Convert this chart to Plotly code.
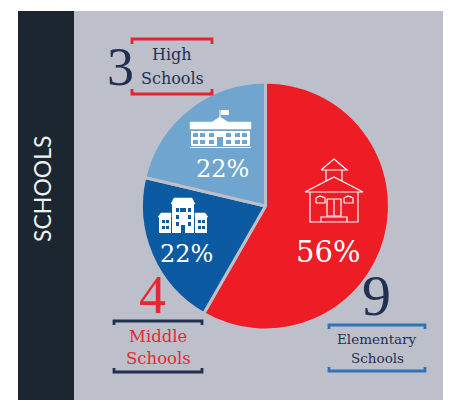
import plotly.graph_objects as go

categories = ["Elementary Schools", "Middle Schools", "High Schools"]
printed_shares = [56, 22, 22]
drawn_shares = [58.3, 20.4, 21.3]
counts = [9, 4, 3]
slice_colors = ["#ee1c25", "#0b5aa2", "#6fa5cf"]

W, H = 460, 400
NAVY = "#1f3050"
RED = "#e8262f"
PANEL = "#bdc0cb"
WHITE = "#ffffff"


def px(x):
    return x / W


def py(y):
    return 1 - y / H


shapes = []


def rect(x0, y0, x1, y1, fill, line=None, lw=1):
    shapes.append(dict(type="rect", xref="paper", yref="paper", x0=px(x0), x1=px(x1),
                       y0=py(y0), y1=py(y1), fillcolor=fill,
                       line=dict(color=line or fill, width=lw if line else 0)))


def seg(points, color=WHITE, lw=1.2, fill=None, close=False):
    d = "M " + " L ".join(f"{px(a):.5f},{py(b):.5f}" for a, b in points)
    if close:
        d += " Z"
    shapes.append(dict(type="path", xref="paper", yref="paper", path=d,
                       fillcolor=fill if fill else "rgba(0,0,0,0)",
                       line=dict(color=color, width=lw)))


def bracket(x0, x1, y, tick, color, lw=2.8):
    seg([(x0, y + tick), (x0, y), (x1, y), (x1, y + tick)], color, lw)


# background panels
rect(74, 11, 443, 400, PANEL)
rect(18, 11, 74, 400, "#1c2630")

# legend brackets
bracket(132, 212, 39, 5, "#e3242e")
bracket(132, 212, 94, -5, "#e3242e")
bracket(114, 202, 321, 4, NAVY)
bracket(114, 202, 372, -4, NAVY)
bracket(329, 425, 325, 4, "#2f72b8")
bracket(329, 425, 371, -4, "#2f72b8")

# elementary school icon (outlined)
seg([(305, 192), (334, 177), (363, 192), (305, 192)], WHITE, 1.2)
seg([(310, 192), (310, 222), (358, 222), (358, 192)], WHITE, 1.2)
seg([(321, 170), (334, 159), (347, 170), (321, 170)], WHITE, 1.2)
seg([(326, 170), (326, 181)], WHITE, 1.2)
seg([(342, 170), (342, 181)], WHITE, 1.2)
seg([(327, 199), (327, 216), (341, 216), (341, 199), (327, 199)], WHITE, 1.2)
seg([(334, 199), (334, 216)], WHITE, 1.2)
seg([(316, 203), (316, 198), (320, 196), (325, 198), (325, 203), (316, 203)], WHITE, 1.2)
seg([(344, 203), (344, 198), (348, 196), (353, 198), (353, 203), (344, 203)], WHITE, 1.2)
seg([(321, 222), (321, 217), (347, 217), (347, 222)], WHITE, 1.2)

# high school icon (filled)
seg([(190, 122), (212, 122), (220, 117), (228, 122), (251, 122), (251, 129), (190, 129)], WHITE, 0.5, WHITE, True)
rect(191, 131, 250, 146, WHITE)
rect(190, 147, 251, 148, WHITE)
seg([(220, 118), (220, 110)], WHITE, 1)
rect(221, 110, 229, 115, WHITE)
for wx in [193, 200, 209, 226, 235, 242]:
    rect(wx, 133, wx + 5, 137, "#6fa5cf")
    rect(wx, 140, wx + 5, 144, "#6fa5cf")
rect(217, 137, 223, 147, "#6fa5cf")

# middle school icon (filled)
rect(172, 204, 194, 233, WHITE)
seg([(171, 204), (174, 198), (192, 198), (195, 204)], WHITE, 0.5, WHITE, True)
rect(159, 217, 171, 233, WHITE)
rect(195, 217, 207, 233, WHITE)
seg([(158, 217), (161, 213), (171, 213), (171, 217)], WHITE, 0.5, WHITE, True)
seg([(195, 217), (195, 213), (205, 213), (208, 217)], WHITE, 0.5, WHITE, True)
for wx in [162, 166, 198, 202]:
    rect(wx, 220, wx + 3, 223, "#0b5aa2")
    rect(wx, 226, wx + 3, 229, "#0b5aa2")
for wx in [176, 188]:
    for wy in [208, 215, 222]:
        rect(wx, wy, wx + 3, wy + 4, "#0b5aa2")
rect(180, 208, 186, 212, "#0b5aa2")
rect(181, 225, 185, 233, "#0b5aa2")

fig = go.Figure(go.Pie(
    labels=categories,
    values=drawn_shares,
    sort=False,
    direction="clockwise",
    rotation=0,
    marker=dict(colors=slice_colors, line=dict(color=PANEL, width=3)),
    textinfo="none",
    hoverinfo="label",
    domain=dict(x=[px(141), px(390)], y=[py(330), py(82)]),
    showlegend=False,
))

SERIF = "Liberation Serif, serif"
LABEL = "DejaVu Serif, serif"
annotations = []


def text(x, y, s, size, color, font=SERIF, angle=0):
    annotations.append(dict(xref="paper", yref="paper", x=px(x), y=py(y), text=s,
                            showarrow=False, xanchor="center", yanchor="middle",
                            textangle=angle, font=dict(family=font, size=size, color=color)))


text(42, 189, "SCHOOLS", 23, "#f2f2f2", "Lato, Open Sans, sans-serif", -90)
text(120, 67, str(counts[2]), 54, NAVY)
text(152, 295, str(counts[1]), 54, RED)
text(376, 295, str(counts[0]), 58, NAVY)
text(172, 55, "High", 16, NAVY, LABEL)
text(172, 78, "Schools", 16, NAVY, LABEL)
text(158, 336, "Middle", 16.5, RED, LABEL)
text(158, 358, "Schools", 16.5, RED, LABEL)
text(377, 339, "Elementary", 13.5, NAVY, LABEL)
text(377, 358, "Schools", 13.5, NAVY, LABEL)
text(222, 169, f"{printed_shares[2]}%", 24, WHITE, LABEL)
text(186, 254, f"{printed_shares[1]}%", 24, WHITE, LABEL)
text(328, 252, f"{printed_shares[0]}%", 29, WHITE, LABEL)

fig.update_layout(
    width=W, height=H,
    margin=dict(l=0, r=0, t=0, b=0),
    paper_bgcolor="white",
    shapes=shapes,
    annotations=annotations,
)
# the panels must sit below the pie, the icons above it
for i, s in enumerate(fig.layout.shapes):
    s.layer = "below" if i < 2 else "above"

fig.write_html("out.html", post_script="document.body.style.margin='0';",
               config={"displayModeBar": False})
